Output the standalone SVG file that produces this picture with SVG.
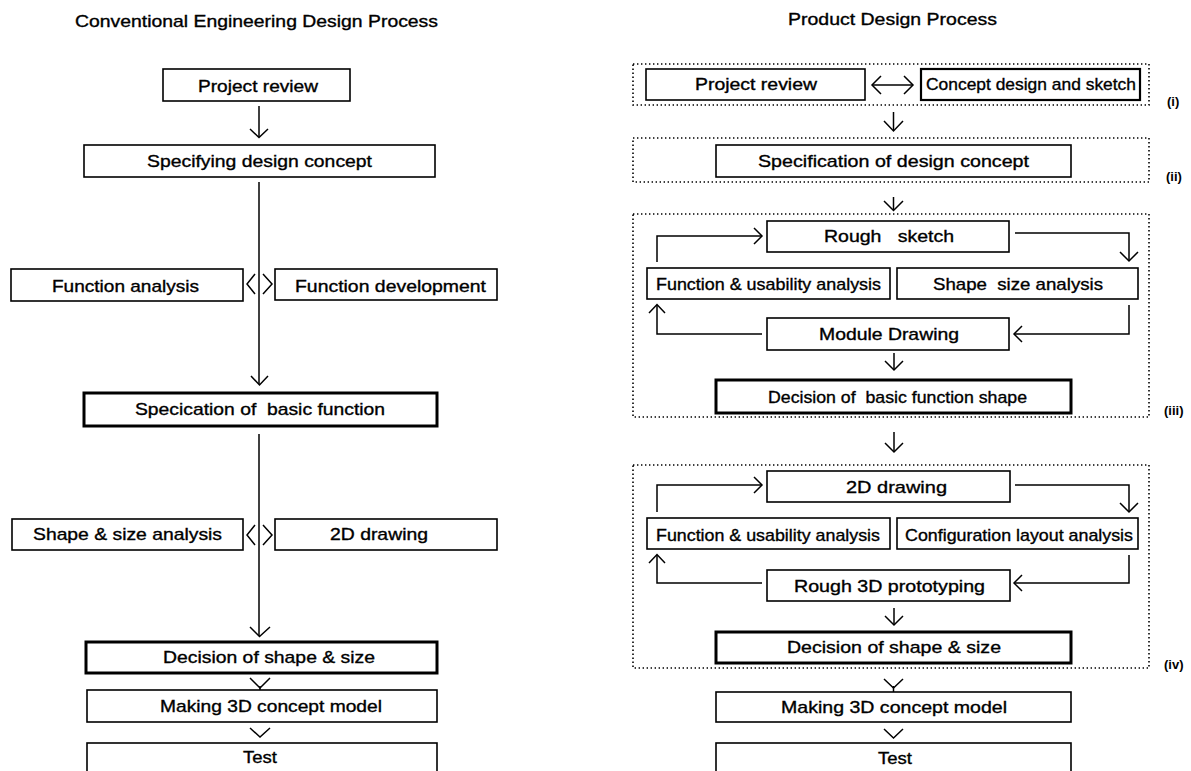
<svg xmlns="http://www.w3.org/2000/svg" width="1191" height="771" viewBox="0 0 1191 771">
<style>
.box{fill:#fff;stroke:#000;stroke-width:1.6}
.thick{stroke-width:3}
.dot{fill:none;stroke:#000;stroke-width:1.6;stroke-dasharray:1.4 2.6}
.t{font-family:"Liberation Sans",Arial,sans-serif;font-size:17px;fill:#000;stroke:#000;stroke-width:0.35}
.lab{font-family:"Liberation Sans",Arial,sans-serif;font-size:13px;font-weight:bold;fill:#000}
.ln{fill:none;stroke:#000;stroke-width:1.5}
</style>
<rect width="1191" height="771" fill="#fff"/>
<text class="t" x="75" y="27" textLength="363" lengthAdjust="spacingAndGlyphs">Conventional Engineering Design Process</text>
<text class="t" x="788" y="25" textLength="209" lengthAdjust="spacingAndGlyphs">Product Design Process</text>

<g id="stages">
<rect class="dot" x="633" y="64" width="516" height="41"/>
<rect class="dot" x="633" y="138" width="516" height="44"/>
<rect class="dot" x="633" y="214" width="516" height="203"/>
<rect class="dot" x="633" y="465" width="516" height="203"/>
<text class="lab" x="1167" y="106">(i)</text>
<text class="lab" x="1166" y="181">(ii)</text>
<text class="lab" x="1164" y="415">(iii)</text>
<text class="lab" x="1164" y="669">(iv)</text>
</g>

<g id="connectors">
<line class="ln" x1="259" y1="106" x2="259" y2="137"/>
<polyline class="ln" points="250,129 259,137.5 268,129"/>
<line class="ln" x1="259" y1="182" x2="259" y2="384"/>
<polyline class="ln" points="251,376 259.5,385 268,376"/>
<polyline class="ln" points="255,274 247,284 255,294"/>
<polyline class="ln" points="263,274 272,284 263,294"/>
<line class="ln" x1="259" y1="434" x2="259" y2="636"/>
<polyline class="ln" points="250,627 259.5,636.5 270,627"/>
<polyline class="ln" points="255,525 247,535 255,545"/>
<polyline class="ln" points="263,525 272,535 263,545"/>
<polyline class="ln" points="250,678 260,688 270,678"/>
<line class="ln" x1="260" y1="686" x2="260" y2="690"/>
<polyline class="ln" points="250,728 260,737 270,728"/>

<polyline class="ln" points="881,76 872,85 881,94"/>
<line class="ln" x1="872" y1="85" x2="913" y2="85"/>
<polyline class="ln" points="904,76 913,85 904,94"/>
<line class="ln" x1="893.5" y1="112" x2="893.5" y2="130"/>
<polyline class="ln" points="884,121 893.5,131 903,121"/>
<line class="ln" x1="893.5" y1="197" x2="893.5" y2="210"/>
<polyline class="ln" points="884,201 893.5,210.5 903,201"/>

<polyline class="ln" points="657,262 657,236 762,236"/>
<polyline class="ln" points="754,228 762,236 754,244"/>
<polyline class="ln" points="1015,233 1129,233 1129,261"/>
<polyline class="ln" points="1120,252 1129,261 1138,252"/>
<polyline class="ln" points="1129,305 1129,334 1014,334"/>
<polyline class="ln" points="1022,326 1014,334 1022,342"/>
<polyline class="ln" points="762,334 657,334 657,305"/>
<polyline class="ln" points="649,313 657,304.5 665,313"/>
<line class="ln" x1="894" y1="353" x2="894" y2="370"/>
<polyline class="ln" points="885,361 894,370 903,361"/>
<line class="ln" x1="894" y1="432" x2="894" y2="452"/>
<polyline class="ln" points="885,443 894,452 903,443"/>

<polyline class="ln" points="657,512 657,485 762,485"/>
<polyline class="ln" points="754,477 762,485 754,493"/>
<polyline class="ln" points="1015,485 1129,485 1129,512"/>
<polyline class="ln" points="1120,503 1129,512 1138,503"/>
<polyline class="ln" points="1129,555 1129,583 1014,583"/>
<polyline class="ln" points="1022,575 1014,583 1022,591"/>
<polyline class="ln" points="762,583 657,583 657,555"/>
<polyline class="ln" points="649,563 657,554.5 665,563"/>
<line class="ln" x1="894" y1="608" x2="894" y2="625"/>
<polyline class="ln" points="885,616 894,625 903,616"/>
<polyline class="ln" points="884,679 893.5,688 903,679"/>
<line class="ln" x1="893.5" y1="686" x2="893.5" y2="692"/>
<polyline class="ln" points="884,729 893.5,738 903,729"/>
</g>

<g id="L-project-review"><rect class="box" x="163" y="69" width="187" height="32"/><text class="t" x="198" y="92" textLength="120" lengthAdjust="spacingAndGlyphs">Project review</text></g>
<g id="L-specifying"><rect class="box" x="84" y="145" width="351" height="32"/><text class="t" x="147" y="167" textLength="225" lengthAdjust="spacingAndGlyphs">Specifying design concept</text></g>
<g id="L-function-analysis"><rect class="box" x="11" y="269" width="232" height="32"/><text class="t" x="52" y="292" textLength="147" lengthAdjust="spacingAndGlyphs">Function analysis</text></g>
<g id="L-function-development"><rect class="box" x="275" y="269" width="222" height="31"/><text class="t" x="295" y="292" textLength="191" lengthAdjust="spacingAndGlyphs">Function development</text></g>
<g id="L-basic-function"><rect class="box thick" x="84" y="393" width="353" height="33"/><text class="t" x="135" y="415" textLength="250" lengthAdjust="spacingAndGlyphs" xml:space="preserve">Specication of  basic function</text></g>
<g id="L-shape-size-analysis"><rect class="box" x="12" y="519" width="231" height="31"/><text class="t" x="33" y="540" textLength="189" lengthAdjust="spacingAndGlyphs">Shape &amp; size analysis</text></g>
<g id="L-2d-drawing"><rect class="box" x="275" y="519" width="222" height="31"/><text class="t" x="330" y="540" textLength="98" lengthAdjust="spacingAndGlyphs">2D drawing</text></g>
<g id="L-decision"><rect class="box thick" x="86" y="642" width="351" height="31"/><text class="t" x="163" y="663" textLength="212" lengthAdjust="spacingAndGlyphs">Decision of shape &amp; size</text></g>
<g id="L-making-3d"><rect class="box" x="87" y="690" width="350" height="32"/><text class="t" x="160" y="712" textLength="222" lengthAdjust="spacingAndGlyphs">Making 3D concept model</text></g>
<g id="L-test"><rect class="box" x="87" y="743" width="350" height="40"/><text class="t" x="243" y="763" textLength="34" lengthAdjust="spacingAndGlyphs">Test</text></g>

<g id="R-project-review"><rect class="box" x="646" y="69" width="219" height="31"/><text class="t" x="695" y="90" textLength="122" lengthAdjust="spacingAndGlyphs">Project review</text></g>
<g id="R-concept-sketch"><rect class="box" x="921" y="69" width="219" height="31" style="stroke-width:2.2"/><text class="t" x="926" y="90" textLength="210" lengthAdjust="spacingAndGlyphs">Concept design and sketch</text></g>
<g id="R-spec-design-concept"><rect class="box" x="716" y="145" width="355" height="32"/><text class="t" x="758" y="167" textLength="271" lengthAdjust="spacingAndGlyphs">Specification of design concept</text></g>
<g id="R-rough-sketch"><rect class="box" x="767" y="221" width="242" height="31"/><text class="t" x="824" y="242" textLength="130" lengthAdjust="spacingAndGlyphs" xml:space="preserve">Rough   sketch</text></g>
<g id="R-func-usability-1"><rect class="box" x="647" y="268" width="243" height="31"/><text class="t" x="656" y="290" textLength="225" lengthAdjust="spacingAndGlyphs">Function &amp; usability analysis</text></g>
<g id="R-shape-size"><rect class="box" x="897" y="268" width="241" height="31"/><text class="t" x="933" y="290" textLength="170" lengthAdjust="spacingAndGlyphs" xml:space="preserve">Shape  size analysis</text></g>
<g id="R-module-drawing"><rect class="box" x="767" y="318" width="242" height="32"/><text class="t" x="819" y="340" textLength="140" lengthAdjust="spacingAndGlyphs">Module Drawing</text></g>
<g id="R-basic-function-shape"><rect class="box thick" x="716" y="380" width="355" height="33"/><text class="t" x="768" y="403" textLength="259" lengthAdjust="spacingAndGlyphs" xml:space="preserve">Decision of  basic function shape</text></g>
<g id="R-2d-drawing"><rect class="box" x="767" y="471" width="243" height="31"/><text class="t" x="846" y="493" textLength="101" lengthAdjust="spacingAndGlyphs">2D drawing</text></g>
<g id="R-func-usability-2"><rect class="box" x="647" y="518" width="243" height="31"/><text class="t" x="656" y="541" textLength="224" lengthAdjust="spacingAndGlyphs">Function &amp; usability analysis</text></g>
<g id="R-config-layout"><rect class="box" x="897" y="518" width="241" height="31"/><text class="t" x="905" y="541" textLength="228" lengthAdjust="spacingAndGlyphs">Configuration layout analysis</text></g>
<g id="R-rough-3d"><rect class="box" x="767" y="570" width="243" height="31"/><text class="t" x="794" y="592" textLength="191" lengthAdjust="spacingAndGlyphs">Rough 3D prototyping</text></g>
<g id="R-decision"><rect class="box thick" x="716" y="632" width="355" height="31"/><text class="t" x="787" y="653" textLength="214" lengthAdjust="spacingAndGlyphs">Decision of shape &amp; size</text></g>
<g id="R-making-3d"><rect class="box" x="716" y="692" width="355" height="30"/><text class="t" x="781" y="713" textLength="226" lengthAdjust="spacingAndGlyphs">Making 3D concept model</text></g>
<g id="R-test"><rect class="box" x="716" y="743" width="355" height="40"/><text class="t" x="878" y="764" textLength="34" lengthAdjust="spacingAndGlyphs">Test</text></g>
</svg>
